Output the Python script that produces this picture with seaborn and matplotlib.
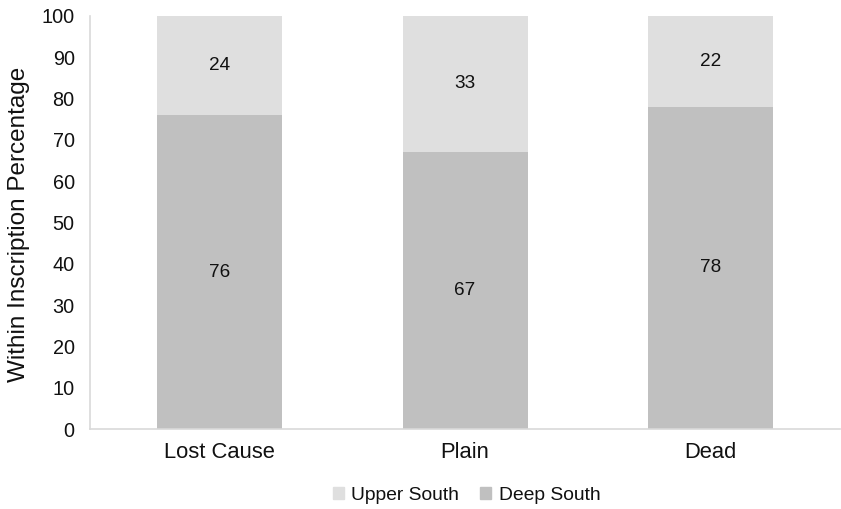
import matplotlib
matplotlib.use("Agg")
import matplotlib.pyplot as plt
import seaborn as sns
import pandas as pd
from matplotlib.patches import Patch

categories = ["Lost Cause", "Plain", "Dead"]
deep_south = [76, 67, 78]
upper_south = [24, 33, 22]
y_ticks = [0, 10, 20, 30, 40, 50, 60, 70, 80, 90, 100]

sns.set_theme(style="white")
plt.rcParams["font.family"] = ["Liberation Sans", "DejaVu Sans"]

DEEP_COLOR = "#c0c0c0"
UPPER_COLOR = "#dfdfdf"
TEXT_COLOR = "#111111"

df = pd.DataFrame({"category": categories,
                   "Deep South": deep_south,
                   "Upper South": upper_south})

fig = plt.figure(figsize=(8.41, 5.09), dpi=100)
ax = fig.add_axes([0.107, 0.157, 0.892, 0.812])

sns.barplot(data=df, x="category", y="Deep South", color=DEEP_COLOR,
            width=0.51, saturation=1, linewidth=0, ax=ax)
sns.barplot(data=df, x="category", y="Upper South", color=UPPER_COLOR,
            width=0.51, saturation=1, linewidth=0,
            bottom=df["Deep South"], ax=ax)

for i, (d, u) in enumerate(zip(deep_south, upper_south)):
    ax.text(i, d / 2, str(d), ha="center", va="center", fontsize=13.7,
            color=TEXT_COLOR)
    ax.text(i, d + u / 2, str(u), ha="center", va="center", fontsize=13.7,
            color=TEXT_COLOR)

ax.set_ylim(0, 100)
ax.set_xlim(-0.53, 2.53)
ax.set_yticks(y_ticks)
ax.set_yticklabels([str(t) for t in y_ticks])
ax.tick_params(axis="both", length=0, colors=TEXT_COLOR)
ax.tick_params(axis="y", labelsize=14.3, pad=11)
ax.tick_params(axis="x", labelsize=15.8, pad=9)
ax.set_xlabel("")
ax.set_ylabel("")
fig.text(0.022, 0.56, "Within Inscription Percentage", rotation=90,
         ha="center", va="center", fontsize=17.5, color=TEXT_COLOR)

for side in ["top", "right"]:
    ax.spines[side].set_visible(False)
for side in ["left", "bottom"]:
    ax.spines[side].set_color("#d9d9d9")
    ax.spines[side].set_linewidth(1.2)

handles = [Patch(color=UPPER_COLOR, label="Upper South"),
           Patch(color=DEEP_COLOR, label="Deep South")]
fig.legend(handles=handles, loc="center", bbox_to_anchor=(0.555, 0.027),
           ncol=2, frameon=False, fontsize=13.9, handlelength=0.55,
           handleheight=0.55, handletextpad=0.4, columnspacing=1.1,
           labelcolor=TEXT_COLOR)

fig.savefig("out.png", dpi=100, facecolor="white")
